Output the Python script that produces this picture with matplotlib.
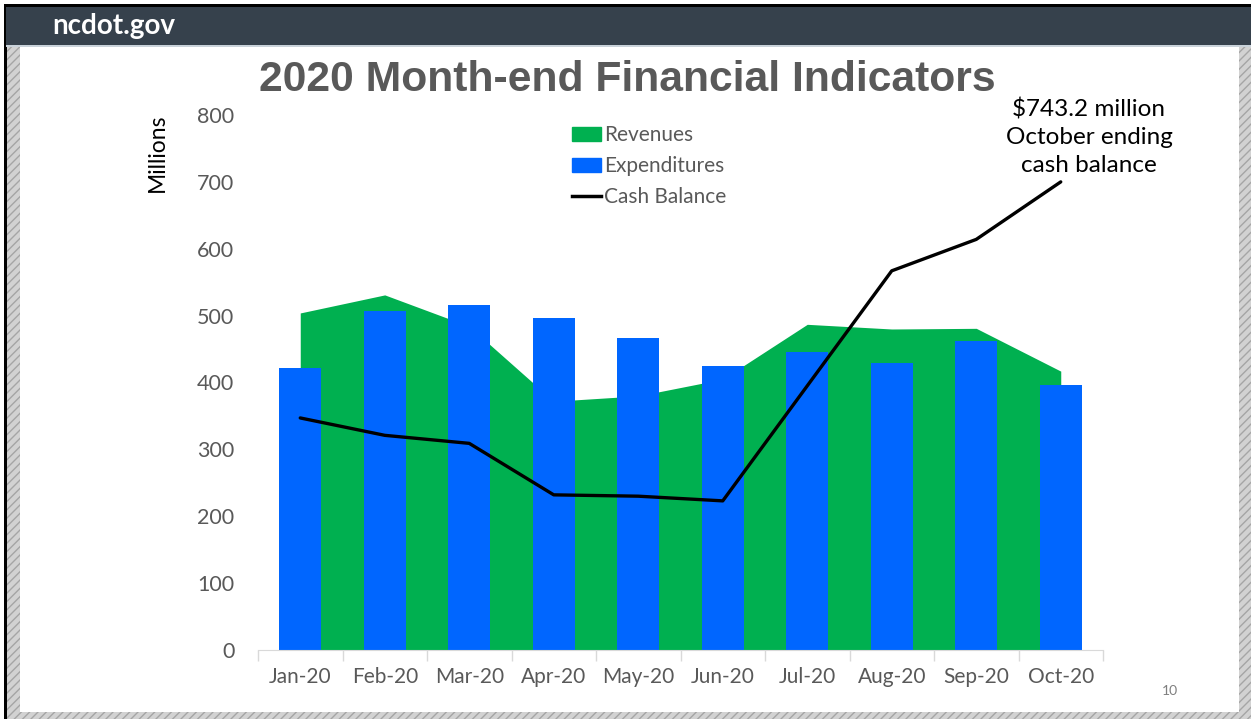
import matplotlib.pyplot as plt
from matplotlib.patches import Rectangle, Patch
from matplotlib.lines import Line2D

# Dữ liệu (triệu USD)
months = ["Jan-20", "Feb-20", "Mar-20", "Apr-20", "May-20",
          "Jun-20", "Jul-20", "Aug-20", "Sep-20", "Oct-20"]
revenues = [504, 531, 484, 372, 380, 405, 487, 480, 481, 417]
expenditures = [422, 507, 516, 496, 467, 425, 445, 429, 462, 396]
cash_balance = [347, 321, 309, 232, 230, 223, 395, 567, 614, 700]
yticks = [0, 100, 200, 300, 400, 500, 600, 700, 800]

GREEN = "#00B050"
BLUE = "#0066FF"
GRAY = "#595959"

plt.rcParams['font.family'] = ['Lato', 'DejaVu Sans']

W, H = 1251, 719
fig = plt.figure(figsize=(W / 100, H / 100), dpi=100)


def fx(px):
    return px / W


def fy(py):
    return 1 - py / H


# === Khung slide (toạ độ pixel) ===
bg = fig.add_axes([0, 0, 1, 1], zorder=0)
bg.set_xlim(0, W)
bg.set_ylim(H, 0)
bg.axis("off")
hatch_kw = dict(facecolor="#D2D2D2", edgecolor="#A5A5A5", hatch="////", linewidth=0)
bg.add_patch(Rectangle((6, 46), 14, H - 46, **hatch_kw))
bg.add_patch(Rectangle((1239, 46), W - 1239, H - 46, **hatch_kw))
bg.add_patch(Rectangle((6, 712), W - 6, H - 712, **hatch_kw))
bg.add_patch(Rectangle((4, 5), 3, H - 5, facecolor="black", linewidth=0))
bg.add_patch(Rectangle((4, 4), W - 4, 3, facecolor="black", linewidth=0))
bg.add_patch(Rectangle((6, 7), W - 6, 38, facecolor="#36414C", linewidth=0))
bg.add_patch(Rectangle((6, 45), W - 6, 2, facecolor="#C9D2DA", linewidth=0))
bg.text(52, 26, "ncdot.gov", color="white", fontsize=20, fontweight="bold",
        va="center", ha="left")
bg.text(1170, 691, "10", color="#7F7F7F", fontsize=10, ha="center", va="center")

# === Biểu đồ ===
ax = fig.add_axes([fx(258), fy(650), fx(1103) - fx(258), fy(115) - fy(650)], zorder=1)
ax.patch.set_alpha(0)
x = list(range(len(months)))

ax.fill_between(x, revenues, 0, color=GREEN, linewidth=0, zorder=1)
ax.bar(x, expenditures, width=0.5, color=BLUE, zorder=2)
ax.plot(x, cash_balance, color="black", linewidth=2.4, zorder=3,
        solid_capstyle="round", solid_joinstyle="round")

ax.set_xlim(-0.5, len(months) - 0.5)
ax.set_ylim(0, 800)
ax.set_yticks(yticks)
ax.tick_params(axis="y", length=0, pad=17, labelsize=15.5, labelcolor=GRAY)
ax.set_xticks(x)
ax.set_xticklabels(months)
ax.set_xticks([i - 0.5 for i in range(len(months) + 1)], minor=True)
ax.tick_params(axis="x", which="major", length=0, pad=12, labelsize=15, labelcolor=GRAY)
ax.tick_params(axis="x", which="minor", length=8, color="#D9D9D9", width=1)
for s in ["top", "right", "left"]:
    ax.spines[s].set_visible(False)
ax.spines["bottom"].set_color("#D9D9D9")

fig.text(fx(157), fy(153), "Millions", rotation=90, fontsize=16.5,
         ha="center", va="center", color="black")

fig.text(fx(627), fy(80), "2020 Month-end Financial Indicators",
         family="Liberation Sans",
         fontsize=30.7, fontweight="bold", color=GRAY, ha="center", va="center")

fig.text(fx(1089), fy(137), "$743.2 million\nOctober ending\ncash balance",
         fontsize=17.5, ha="center", va="center", color="black", linespacing=1.4)

handles = [Patch(color=GREEN), Patch(color=BLUE), Line2D([], [], color="black", lw=2.5)]
fig.legend(handles, ["Revenues", "Expenditures", "Cash Balance"],
           loc="upper left", bbox_to_anchor=(fx(562), fy(115)), frameon=False,
           borderpad=0, fontsize=15, labelcolor=GRAY, handlelength=1.35,
           handleheight=0.6, handletextpad=0.15, labelspacing=0.52)

fig.savefig("out.png", dpi=100)
